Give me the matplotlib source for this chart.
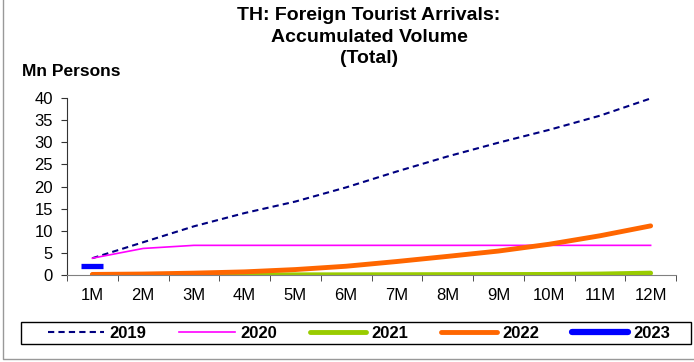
import matplotlib.pyplot as plt
import numpy as np
from matplotlib.lines import Line2D
from matplotlib.patches import Rectangle

plt.rcParams['font.family'] = ['Liberation Sans', 'DejaVu Sans']

# datos (millones de personas, acumulado)
months = ['1M', '2M', '3M', '4M', '5M', '6M', '7M', '8M', '9M', '10M', '11M', '12M']
y2019 = [3.8, 7.4, 11.0, 14.0, 16.6, 19.8, 23.4, 26.8, 29.9, 32.8, 36.0, 39.9]
y2020 = [3.8, 6.0, 6.7, 6.7, 6.7, 6.7, 6.7, 6.7, 6.7, 6.7, 6.7, 6.7]
y2021 = [0.01, 0.01, 0.02, 0.03, 0.04, 0.05, 0.07, 0.09, 0.11, 0.13, 0.22, 0.43]
y2022 = [0.13, 0.22, 0.42, 0.71, 1.23, 1.98, 3.05, 4.21, 5.41, 6.95, 8.86, 11.1]
y2023 = [2.1]

fig = plt.figure(figsize=(6.94, 3.62), dpi=100)
ax = fig.add_axes([67 / 694, 1 - 275 / 362, 609 / 694, 177 / 362])

x = np.arange(len(months))
ax.plot(x, y2019, color='#000080', linestyle=(0, (3, 2)), linewidth=1.5, label='2019')
ax.plot(x, y2020, color='#FF00FF', linewidth=1.2, label='2020')
ax.plot(x, y2021, color='#99CC00', linewidth=3.5, solid_capstyle='round', label='2021')
ax.plot(x, y2022, color='#FF6600', linewidth=3.5, solid_capstyle='round', label='2022')
ax.plot(x[:1], y2023, color='#0000FF', marker='_', markersize=16.5,
        markeredgewidth=3.8, linestyle='none', label='2023')

ax.set_xlim(-0.5, len(months) - 0.5)
ax.set_ylim(0, 40)
ax.set_yticks(range(0, 41, 5))
ax.set_xticks(x)
ax.set_xticklabels(months)
ax.set_xticks(np.arange(-0.5, len(months), 1), minor=True)
ax.tick_params(axis='x', which='major', length=0, pad=9, labelsize=12)
ax.tick_params(axis='x', which='minor', length=4, color='#333333')
ax.tick_params(axis='y', length=4, color='#333333', labelsize=12, pad=6)
for s in ['top', 'right']:
    ax.spines[s].set_visible(False)
ax.spines['left'].set_color('#333333')
ax.spines['bottom'].set_color('#808080')

fig.text(369 / 694, 1 - 7 / 362, 'TH: Foreign Tourist Arrivals:\nAccumulated Volume\n(Total)',
         ha='center', va='top', fontsize=14, fontweight='bold', linespacing=1.35)
fig.text(22 / 694, 1 - 72 / 362, 'Mn Persons', ha='left', va='center',
         fontsize=12.5, fontweight='bold')

# marco exterior (solo izquierda y abajo visibles)
fig.add_artist(Line2D([3 / 694, 3 / 694, 1], [1, 1 - 359 / 362, 1 - 359 / 362],
                      transform=fig.transFigure, color='#999999', linewidth=1))

# caja de la leyenda
fig.patches.append(Rectangle((21 / 694, 1 - 344 / 362), 670 / 694, 22 / 362,
                             transform=fig.transFigure, fill=False,
                             edgecolor='black', linewidth=1))

handles = [Line2D([], [], color='#000080', linestyle=(0, (3, 2)), linewidth=1.5),
           Line2D([], [], color='#FF00FF', linewidth=1.2),
           Line2D([], [], color='#99CC00', linewidth=3.5, solid_capstyle='round'),
           Line2D([], [], color='#FF6600', linewidth=3.5, solid_capstyle='round'),
           Line2D([], [], color='#0000FF', linewidth=4.5, solid_capstyle='round')]
fig.legend(handles, ['2019', '2020', '2021', '2022', '2023'], loc='center',
           bbox_to_anchor=(359 / 694, 1 - 333 / 362), ncol=5, frameon=False,
           prop={'weight': 'bold', 'size': 12}, handlelength=3.4,
           borderpad=0.1, handletextpad=0.3, columnspacing=1.95)

fig.savefig('out.png', dpi=100)
